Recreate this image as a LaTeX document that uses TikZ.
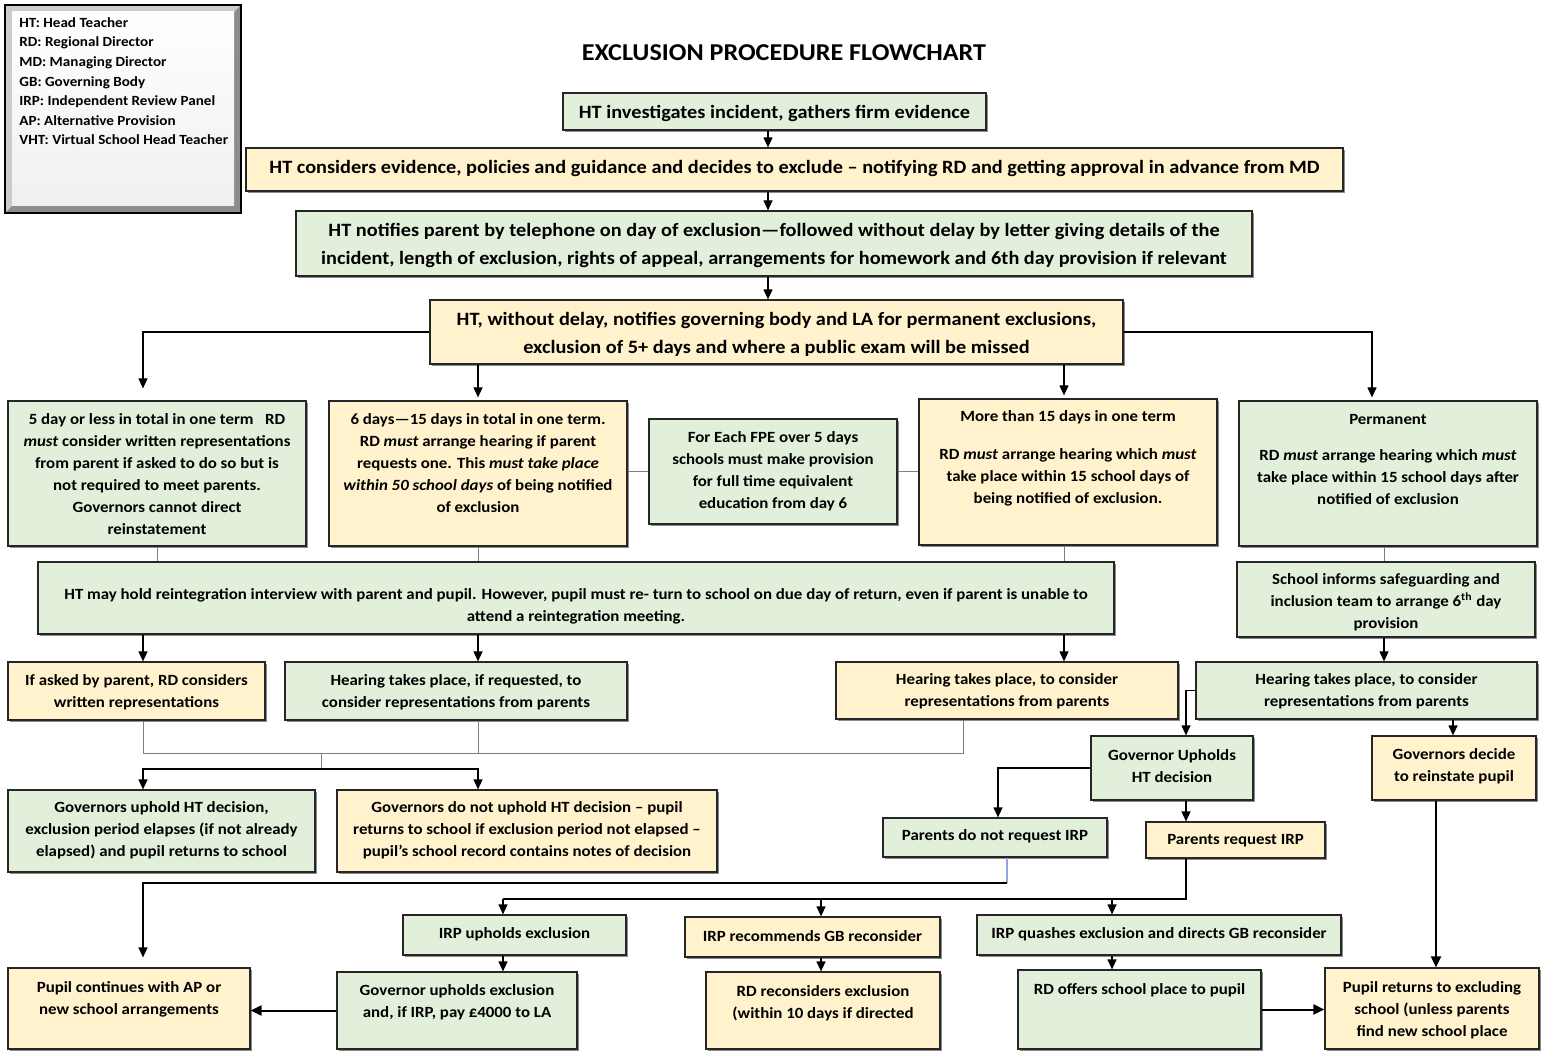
\documentclass[tikz,border=0pt]{standalone}
\usepackage{fontspec}
\setmainfont{Carlito}[FakeStretch=1.08]
\usetikzlibrary{arrows.meta,shadows}
\definecolor{gfill}{HTML}{E2EFDA}
\definecolor{yfill}{HTML}{FFF2CC}
\definecolor{gline}{HTML}{7F7F7F}
\definecolor{bline}{HTML}{8EA9DB}
\tikzset{
 boxbase/.style={draw=black!85, line width=0.6pt, inner sep=0pt, drop shadow={shadow xshift=1.1pt, shadow yshift=-1.1pt, fill=black!50, opacity=0.9}},
 gbox/.style={boxbase, fill=gfill},
 ybox/.style={boxbase, fill=yfill},
 bigtxt/.style={font=\fontsize{9.4}{14}\selectfont\bfseries, align=center, inner sep=0pt},
 smtxt/.style={font=\fontsize{7.8}{11}\selectfont\bfseries, align=center, inner sep=0pt},
 arr/.style={draw=black, line width=0.6pt, -{Triangle[length=5pt,width=4.5pt]}},
 thickarr/.style={draw=black, line width=1pt, -{Triangle[length=5.5pt,width=5pt]}},
 conn/.style={draw=gline, line width=0.5pt},
 blk/.style={draw=black, line width=0.6pt},
}
\newcommand{\bx}[9]{%
 \pgfmathsetmacro\bxw{(#6-#4)*0.5}%
 \pgfmathsetmacro\bxh{(#7-#5)*0.5}%
 \node[#2, minimum width=\bxw pt, minimum height=\bxh pt] (#1) at ({(#4+#6)/2},{(#5+#7)/2}) {};%
 \node[#3] (#1-t) at ({(#4+#6)/2},#8) {#9};}
\begin{document}
\begin{tikzpicture}[x=0.5pt,y=-0.5pt]
\useasboundingbox (0,0) rectangle (1541,1052);
% legend
\fill[black!45] (5,5) rectangle (241,213);
\fill[black!20] (5,5) -- (241,5) -- (234,12) -- (12,12) -- (12,206) -- (5,213) -- cycle;
\draw[black, line width=0.8pt] (5,5) rectangle (241,213);
\shade[top color=white, bottom color=black!6] (12,12) rectangle (234,206);
\node[minimum width=111pt, minimum height=97pt, inner sep=0pt] (legend) at (123,109) {};
\node[anchor=north west, align=left, inner sep=0pt, font=\fontsize{7}{9.8}\selectfont\bfseries] (legend-t) at (19,17) {HT: Head Teacher\\RD: Regional Director\\MD: Managing Director\\GB: Governing Body\\IRP: Independent Review Panel\\AP: Alternative Provision\\VHT: Virtual School Head Teacher};
% title
\node[font=\fontsize{12.1}{14}\selectfont\bfseries] (title) at (784,53) {EXCLUSION PROCEDURE FLOWCHART};
% boxes
\bx{B1}{gbox}{bigtxt}{563}{93}{986}{130}{113}{HT investigates incident, gathers firm evidence}
\bx{B2}{ybox}{bigtxt}{246}{148}{1343}{191}{168}{HT considers evidence, policies and guidance and decides to exclude – notifying RD and getting approval in advance from MD}
\bx{B3}{gbox}{bigtxt}{296}{211}{1252}{276}{245}{HT notifies parent by telephone on day of exclusion—followed without delay by letter giving details of the\\incident, length of exclusion, rights of appeal, arrangements for homework and 6th day provision if relevant}
\bx{B4}{ybox}{bigtxt}{430}{300}{1123}{364}{334}{HT, without delay, notifies governing body and LA for permanent exclusions,\\exclusion of 5+ days and where a public exam will be missed}
\bx{C1}{gbox}{smtxt}{8}{401}{306}{546}{474}{5 day or less in total in one term\ \ \ RD\\\emph{must} consider written representations\\from parent if asked to do so but is\\not required to meet parents.\\Governors cannot direct\\reinstatement}
\bx{C2}{ybox}{smtxt}{329}{401}{627}{546}{463}{6 days—15 days in total in one term.\\RD \emph{must} arrange hearing if parent\\requests one. This \emph{must take place}\\\emph{within 50 school days} of being notified\\of exclusion}
\bx{C3}{gbox}{smtxt}{649}{419}{897}{524}{471}{For Each FPE over 5 days\\schools must make provision\\for full time equivalent\\education from day 6}
\bx{C4}{ybox}{smtxt}{919}{399}{1217}{545}{458}{More than 15 days in one term\\[8pt]RD \emph{must} arrange hearing which \emph{must}\\take place within 15 school days of\\being notified of exclusion.}
\bx{C5}{gbox}{smtxt}{1239}{401}{1537}{546}{460}{Permanent\\[7pt]RD \emph{must} arrange hearing which \emph{must}\\take place within 15 school days after\\notified of exclusion}
\bx{D1}{gbox}{smtxt}{38}{562}{1114}{634}{606}{HT may hold reintegration interview with parent and pupil. However, pupil must re- turn to school on due day of return, even if parent is unable to\\attend a reintegration meeting.}
\bx{D2}{gbox}{smtxt}{1237}{562}{1535}{637}{602}{School informs safeguarding and\\inclusion team to arrange 6\textsuperscript{th} day\\provision}
\bx{E1}{ybox}{smtxt}{8}{662}{265}{720}{692}{If asked by parent, RD considers\\written representations}
\bx{E2}{gbox}{smtxt}{285}{662}{627}{720}{692}{Hearing takes place, if requested, to\\consider representations from parents}
\bx{E3}{ybox}{smtxt}{836}{662}{1178}{719}{691}{Hearing takes place, to consider\\representations from parents}
\bx{E4}{gbox}{smtxt}{1196}{662}{1537}{719}{691}{Hearing takes place, to consider\\representations from parents}
\bx{F1}{gbox}{smtxt}{8}{790}{315}{872}{830}{Governors uphold HT decision,\\exclusion period elapses (if not already\\elapsed) and pupil returns to school}
\bx{F2}{ybox}{smtxt}{337}{790}{717}{872}{830}{Governors do not uphold HT decision – pupil\\returns to school if exclusion period not elapsed –\\pupil’s school record contains notes of decision}
\bx{G1}{gbox}{smtxt}{1091}{736}{1253}{800}{766}{Governor Upholds\\HT decision}
\bx{G2}{ybox}{smtxt}{1372}{736}{1536}{800}{766}{Governors decide\\to reinstate pupil}
\bx{H1}{gbox}{smtxt}{883}{818}{1107}{857}{836}{Parents do not request IRP}
\bx{H2}{ybox}{smtxt}{1146}{822}{1325}{858}{841}{Parents request IRP}
\bx{J1}{gbox}{smtxt}{403}{915}{626}{955}{934}{IRP upholds exclusion}
\bx{J2}{ybox}{smtxt}{685}{917}{940}{957}{936}{IRP recommends GB reconsider}
\bx{J3}{gbox}{smtxt}{977}{915}{1341}{955}{934}{IRP quashes exclusion and directs GB reconsider}
\bx{K1}{ybox}{smtxt}{8}{968}{250}{1049}{999}{Pupil continues with AP or\\new school arrangements}
\bx{K2}{gbox}{smtxt}{337}{972}{577}{1049}{1002}{Governor upholds exclusion\\and, if IRP, pay £4000 to LA}
\bx{K3}{ybox}{smtxt}{706}{972}{940}{1049}{1003}{RD reconsiders exclusion\\(within 10 days if directed}
\bx{K4}{gbox}{smtxt}{1018}{970}{1261}{1049}{990}{RD offers school place to pupil}
\bx{K5}{ybox}{smtxt}{1325}{968}{1539}{1049}{1010}{Pupil returns to excluding\\school (unless parents\\find new school place}
% column coordinates
\foreach \nm/\xv in {a/768,b/143,c/478,d/1064,e/1372,f/157,g/1384,h/963,i/321,j/1186,k/1453,l/998,m/1007,n/503,o/821,p/1112,q/1436}{\coordinate (x\nm) at (\xv,0);}
\coordinate (r753) at (0,753);
\coordinate (r769) at (0,769);
\coordinate (r883) at (0,883);
\coordinate (r899) at (0,899);
% connectors
\draw[arr] (xa |- B1.south) -- (xa |- B2.north);
\draw[arr] (xa |- B2.south) -- (xa |- B3.north);
\draw[arr] (xa |- B3.south) -- (xa |- B4.north);
\draw[arr, shorten >=6pt] (B4.west) -| (xb |- C1.north);
\draw[arr, shorten >=1.5pt] (B4.east) -| (xe |- C5.north);
\draw[arr, shorten >=1.5pt] (xc |- B4.south) -- (xc |- C2.north);
\draw[arr, shorten >=1.5pt] (xd |- B4.south) -- (xd |- C4.north);
\draw[conn] (C3.west -| C2.east) -- (C3.west);
\draw[conn] (C3.east) -- (C3.east -| C4.west);
\draw[conn] (xf |- C1.south) -- (xf |- D1.north);
\draw[conn] (xc |- C2.south) -- (xc |- D1.north);
\draw[conn] (xd |- C4.south) -- (xd |- D1.north);
\draw[conn] (xg |- C5.south) -- (xg |- D2.north);
\draw[arr] (xb |- D1.south) -- (xb |- E1.north);
\draw[arr] (xc |- D1.south) -- (xc |- E2.north);
\draw[arr] (xd |- D1.south) -- (xd |- E3.north);
\draw[arr] (xg |- D2.south) -- (xg |- E4.north);
\draw[conn] (xb |- E1.south) -- (xb |- r753) -- (xh |- r753) -- (xh |- E3.south);
\draw[conn] (xc |- E2.south) -- (xc |- r753);
\draw[conn] (xi |- r753) -- (xi |- r769);
\draw[arr] (xi |- r769) -| (xb |- F1.north);
\draw[arr] (xi |- r769) -| (xc |- F2.north);
\draw[arr] (E4.west) -| (xj |- G1.north);
\draw[arr] (xk |- E4.south) -- (xk |- G2.north);
\draw[arr] (G1.west) -| (xl |- H1.north);
\draw[arr] (xj |- G1.south) -- (xj |- H2.north);
\draw[draw=bline, line width=0.6pt] (xm |- H1.south) -- (xm |- r883);
\draw[arr, shorten >=5pt] (xm |- r883) -| (xb |- K1.north);
\draw[blk] (xj |- H2.south) -- (xj |- r899) -- (xn |- r899);
\draw[arr] (xn |- r899) -- (xn |- J1.north);
\draw[arr] (xo |- r899) -- (xo |- J2.north);
\draw[arr] (xp |- r899) -- (xp |- J3.north);
\draw[arr] (xn |- J1.south) -- (xn |- K2.north);
\draw[arr] (xo |- J2.south) -- (xo |- K3.north);
\draw[arr] (xp |- J3.south) -- (xp |- K4.north);
\draw[thickarr] (K2.west) -- (K2.west -| K1.east);
\draw[thickarr] (K4.east) -- (K4.east -| K5.west);
\draw[thickarr] (xq |- G2.south) -- (xq |- K5.north);
\end{tikzpicture}
\end{document}
